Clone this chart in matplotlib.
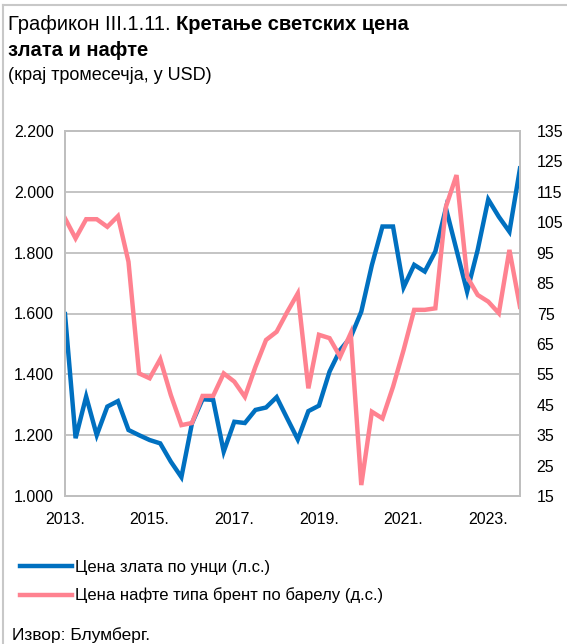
import matplotlib
matplotlib.use("Agg")
import matplotlib.pyplot as plt
from matplotlib.ticker import FuncFormatter, FixedLocator, MultipleLocator
from matplotlib.lines import Line2D

plt.rcParams['font.family'] = ['Liberation Sans', 'DejaVu Sans']

# квартали 2013 Q1 - 2023 Q4
years = [str(y) + '.' for y in range(2013, 2024)]
gold = [1598, 1190, 1327, 1200, 1294, 1312, 1217, 1200, 1184, 1173, 1113, 1062,
        1239, 1318, 1316, 1146, 1244, 1240, 1283, 1291, 1325, 1255, 1186, 1279,
        1297, 1409, 1480, 1522, 1606, 1759, 1886, 1886, 1686, 1760, 1738, 1804,
        1946, 1809, 1672, 1809, 1975, 1918, 1869, 2077]
brent = [106.3, 99.7, 106, 106, 103.5, 107, 92, 55.3, 53.7, 60, 48.2, 38.3,
         39, 47.9, 47.9, 55.3, 52.6, 47.6, 57.5, 66.3, 69, 75.5, 81.6, 50.4,
         68, 66.9, 60.8, 68.5, 18.6, 42.7, 40.5, 50.9, 63, 76.2, 76.2, 76.7,
         110.1, 120.5, 87.1, 81.1, 78.9, 75.1, 95.9, 77.2]
gold_label = 'Цена злата по унци (л.с.)'
brent_label = 'Цена нафте типа брент по барелу (д.с.)'

W, H = 567, 644
fig = plt.figure(figsize=(W / 100, H / 100), dpi=100)
# оквир само горе и лево
fig.lines.append(Line2D([2.5 / W, 1], [1 - 5 / H, 1 - 5 / H], transform=fig.transFigure,
                        color='#C8C8C8', lw=1.5))
fig.lines.append(Line2D([2.5 / W, 2.5 / W], [0, 1 - 5 / H], transform=fig.transFigure,
                        color='#C8C8C8', lw=1.5))

ax = fig.add_axes([65 / W, 1 - 496 / H, 455 / W, 365 / H])
ax2 = ax.twinx()

x = list(range(len(gold)))
grey = '#BFBFBF'
blue = '#0070C0'
pink = '#FF8290'

ax.plot(x, gold, color=blue, lw=3.2, solid_joinstyle='miter', label=gold_label)
ax2.plot(x, brent, color=pink, lw=3.2, solid_joinstyle='miter', label=brent_label)

ax.set_xlim(0, len(gold) - 1)
ax.set_ylim(1000, 2200)
ax2.set_ylim(15, 135)
ax.yaxis.set_major_locator(MultipleLocator(200))
ax2.yaxis.set_major_locator(FixedLocator(range(15, 136, 10)))
ax.yaxis.set_major_formatter(FuncFormatter(lambda v, p: f"{v:,.0f}".replace(',', '.')))
ax.set_xticks(x[::8])
ax.set_xticklabels(years[::2])
ax.grid(axis='y', color=grey, lw=1.3)
ax.set_axisbelow(True)

for a in (ax, ax2):
    for s in a.spines.values():
        s.set_color(grey)
        s.set_linewidth(1.3)
    a.tick_params(length=0, labelsize=11.5, colors='black')
ax.tick_params(axis='y', pad=8)
ax.tick_params(axis='x', pad=11.5)
ax2.tick_params(axis='y', pad=12)

t = fig.text(8 / W, 1 - 25 / H, 'Графикон III.1.11. ', fontsize=14.5, va='center')
fig.canvas.draw()
bb = t.get_window_extent()
fig.text(bb.x1 / W, 1 - 25 / H, 'Кретање светских цена', fontsize=14.5,
         fontweight='bold', va='center')
fig.text(8 / W, 1 - 50 / H, 'злата и нафте', fontsize=14.5, fontweight='bold', va='center')
fig.text(8 / W, 1 - 75 / H, '(крај тромесечја, у USD)', fontsize=13, va='center')

h1, l1 = ax.get_legend_handles_labels()
h2, l2 = ax2.get_legend_handles_labels()
fig.legend(h1 + h2, l1 + l2, loc='upper left', bbox_to_anchor=(20 / W, 1 - 560 / H),
           frameon=False, fontsize=12, handlelength=3.1, handletextpad=0.2,
           labelspacing=0.75, borderaxespad=0, borderpad=0)

fig.text(12 / W, 1 - 635 / H, 'Извор: Блумберг.', fontsize=12.5, va='center')

fig.savefig('out.png', dpi=100)
